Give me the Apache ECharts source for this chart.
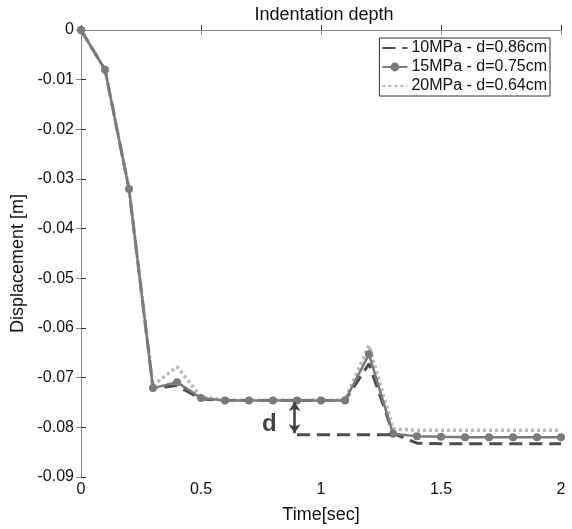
<!DOCTYPE html>
<html><head><meta charset="utf-8">
<script src="https://cdn.jsdelivr.net/npm/echarts@6/dist/echarts.min.js"></script>
<style>html,body{margin:0;padding:0;background:#fff}#c{width:572px;height:529px}</style>
</head><body><div id="c"></div>
<script>
const times = [0,0.1,0.2,0.3,0.4,0.5,0.6,0.7,0.8,0.9,1.0,1.1,1.2,1.3,1.4,1.5,1.6,1.7,1.8,1.9,2.0];
const disp10 = [0,-0.008,-0.032,-0.0721,-0.0716,-0.0743,-0.0746,-0.0746,-0.0746,-0.0746,-0.0746,-0.0746,-0.0672,-0.0812,-0.0832,-0.0833,-0.0833,-0.0833,-0.0833,-0.0833,-0.0833];
const disp15 = [0,-0.008,-0.032,-0.0721,-0.0709,-0.0741,-0.0746,-0.0746,-0.0746,-0.0746,-0.0746,-0.0746,-0.0653,-0.0813,-0.0818,-0.0819,-0.082,-0.082,-0.082,-0.082,-0.082];
const disp20 = [0,-0.008,-0.032,-0.0716,-0.0678,-0.0739,-0.0745,-0.0745,-0.0745,-0.0745,-0.0745,-0.0745,-0.0635,-0.0803,-0.0806,-0.0806,-0.0806,-0.0806,-0.0806,-0.0806,-0.0806];
const names = ['10MPa - d=0.86cm','15MPa - d=0.75cm','20MPa - d=0.64cm'];
const dLineX = [0.9, 1.3];
const dLevel = -0.0815;
const dArrowX = 0.89;
const dArrowY = [-0.0749, -0.0812];
const dLabelPos = [0.785, -0.0795];
const yTicks = { min: -0.09, max: 0, interval: 0.01 };
const xTicks = { min: 0, max: 2, interval: 0.5 };

const pair = arr => times.map((t,i)=>[t,arr[i]]);
const font = 'Liberation Sans, Arial, sans-serif';
const chart = echarts.init(document.getElementById('c'));
const tickInside = c => ({show:true,inside:true,length:5,lineStyle:{color:c,width:1}});
chart.setOption({
  animation:false,
  backgroundColor:'#fff',
  title:{text:'Indentation depth',left:319,top:1,textAlign:'center',
    textStyle:{fontWeight:'normal',fontSize:18,color:'#111',fontFamily:font}},
  grid:{left:81,right:11,top:30,bottom:48},
  legend:{
    data:[{name:names[0],itemStyle:{opacity:0}},{name:names[1]},{name:names[2],itemStyle:{opacity:0}}],
    top:38,right:22,orient:'vertical',itemGap:3,itemWidth:25,itemHeight:11,
    borderColor:'#333',borderWidth:1,backgroundColor:'#fff',padding:[2,3,2,2],borderRadius:0,
    textStyle:{fontSize:16,color:'#111',fontFamily:font,padding:[0,0,0,-1]}},
  xAxis:[
    {type:'value',min:xTicks.min,max:xTicks.max,interval:xTicks.interval,
      axisLine:{show:true,lineStyle:{color:'#222'}},axisTick:tickInside('#333'),splitLine:{show:false},
      name:'Time[sec]',nameLocation:'middle',nameGap:29,nameTextStyle:{fontSize:18,color:'#111',fontFamily:font},
      axisLabel:{color:'#111',fontSize:16,fontFamily:font,margin:5}},
    {type:'value',position:'top',min:xTicks.min,max:xTicks.max,interval:xTicks.interval,
      axisLabel:{show:false},splitLine:{show:false},
      axisLine:{show:true,lineStyle:{color:'#888'}},axisTick:tickInside('#888')}
  ],
  yAxis:[
    {type:'value',min:yTicks.min,max:yTicks.max,interval:yTicks.interval,
      axisLine:{show:true,lineStyle:{color:'#222'}},axisTick:tickInside('#333'),splitLine:{show:false},
      name:'Displacement [m]',nameLocation:'middle',nameGap:53,
      nameTextStyle:{fontSize:18,color:'#111',fontFamily:font,padding:[0,0,0,-20]},
      axisLabel:{color:'#111',fontSize:16,fontFamily:font,margin:7}},
    {type:'value',position:'right',min:yTicks.min,max:yTicks.max,interval:yTicks.interval,
      axisLabel:{show:false},splitLine:{show:false},
      axisLine:{show:true,lineStyle:{color:'#888'}},axisTick:tickInside('#888')}
  ],
  series:[
    {name:names[2],type:'line',data:pair(disp20),symbol:'none',z:3,
      lineStyle:{color:'#b8b8b8',width:3.5,type:[3,3]},itemStyle:{color:'#b8b8b8'}},
    {name:names[1],type:'line',data:pair(disp15),symbol:'circle',symbolSize:8,z:4,
      lineStyle:{color:'#7a7a7a',width:2.5},itemStyle:{color:'#7a7a7a'}},
    {name:names[0],type:'line',data:pair(disp10),symbol:'none',z:2,
      lineStyle:{color:'#4c4c4c',width:3,type:[13,7]},itemStyle:{color:'#4c4c4c'}},
    {name:'dline',type:'line',data:dLineX.map(x=>[x,dLevel]),symbol:'none',z:5,
      lineStyle:{color:'#4c4c4c',width:3,type:[13,7]},
      markLine:{silent:true,symbol:['arrow','arrow'],symbolSize:[9,9],label:{show:false},
        lineStyle:{color:'#404040',width:2.5,type:'solid'},
        data:[[{coord:[dArrowX,dArrowY[0]]},{coord:[dArrowX,dArrowY[1]]}]]}},
    {name:'dlabel',type:'scatter',data:[dLabelPos],symbolSize:0,z:6,
      label:{show:true,position:'inside',formatter:'d',fontSize:24,fontWeight:'bold',color:'#111',fontFamily:font}}
  ]
});
</script></body></html>
